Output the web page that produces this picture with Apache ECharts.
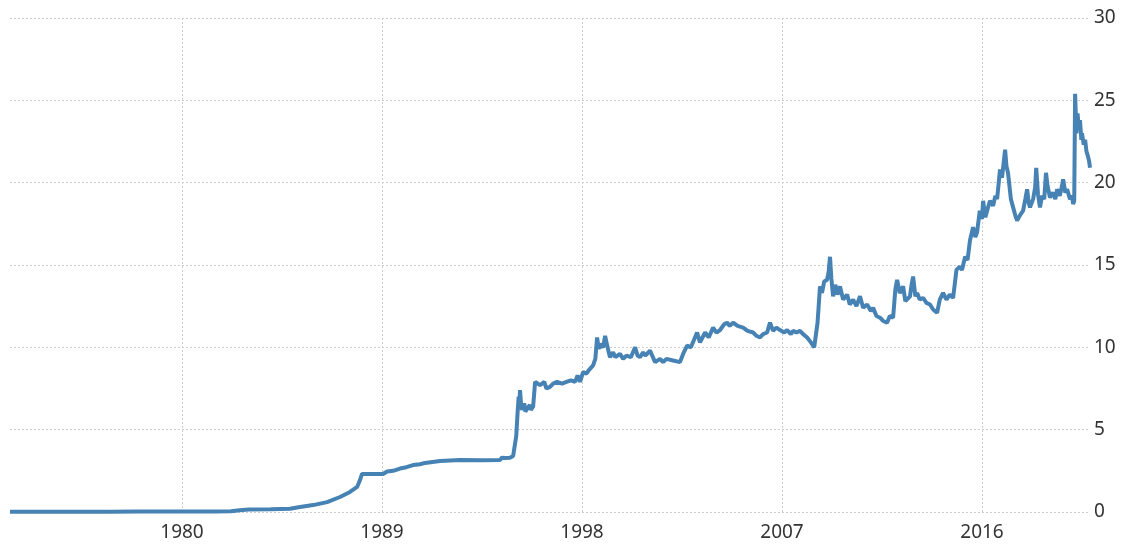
<!DOCTYPE html>
<html>
<head>
<meta charset="utf-8">
<script src="https://cdn.jsdelivr.net/npm/echarts@6/dist/echarts.min.js"></script>
<style>
  html, body { margin: 0; padding: 0; background: #fff; }
  #chart { width: 1124px; height: 547px; }
</style>
</head>
<body>
<div id="chart"></div>
<script>
// x ticks shown on the axis
const yearTicks = [1980, 1989, 1998, 2007, 2016];

// [decimal year, rate]
const early = [
  [1972.26, 0.012], [1974.0, 0.012], [1976.6, 0.012], [1976.8, 0.02], [1978.0, 0.023],
  [1980.0, 0.023], [1981.5, 0.025], [1982.2, 0.05], [1982.6, 0.1], [1983.0, 0.15],
  [1984.0, 0.16], [1984.86, 0.2], [1985.31, 0.3], [1985.9, 0.42], [1986.53, 0.6],
  [1987.11, 0.91], [1987.56, 1.22], [1987.88, 1.52], [1988.01, 1.94], [1988.1, 2.31],
  [1989.05, 2.31], [1989.23, 2.46], [1989.5, 2.5], [1989.81, 2.64], [1990.1, 2.72],
  [1990.4, 2.85], [1990.71, 2.9], [1990.94, 2.98], [1991.61, 3.1], [1992.51, 3.16],
  [1993.5, 3.15], [1994.31, 3.16], [1994.4, 3.3], [1994.45, 3.2], [1994.54, 3.28],
  [1994.76, 3.3], [1994.9, 3.4], [1994.99, 3.45]
];

const middle = [
  [1995.04, 4.6], [1995.1, 6.0], [1995.15, 7.0], [1995.18, 6.3], [1995.21, 7.4],
  [1995.26, 6.5], [1995.3, 6.2], [1995.4, 6.6], [1995.45, 6.1], [1995.53, 6.0],
  [1995.65, 6.5], [1995.7, 6.2], [1995.8, 6.4], [1995.89, 7.9], [1996.11, 7.7],
  [1996.3, 7.9], [1996.4, 7.5], [1996.56, 7.6], [1996.7, 7.8], [1996.88, 7.9],
  [1997.1, 7.8], [1997.3, 7.9], [1997.5, 8.0], [1997.69, 7.9], [1997.8, 8.3],
  [1997.91, 7.9], [1998.05, 8.5], [1998.2, 8.4], [1998.3, 8.6], [1998.5, 8.9],
  [1998.6, 9.3], [1998.68, 10.6], [1998.75, 9.9], [1998.81, 10.2], [1998.95, 10.0],
  [1999.04, 10.7], [1999.15, 10.0], [1999.26, 9.4], [1999.4, 9.7], [1999.5, 9.4],
  [1999.71, 9.6], [1999.85, 9.3], [2000.0, 9.5], [2000.2, 9.4], [2000.39, 10.0],
  [2000.5, 9.5], [2000.61, 9.4], [2000.75, 9.7], [2000.85, 9.5], [2001.06, 9.8],
  [2001.29, 9.1], [2001.51, 9.3], [2001.65, 9.1], [2001.8, 9.3], [2002.1, 9.2],
  [2002.41, 9.1], [2002.55, 9.6], [2002.73, 10.1], [2002.9, 10.0], [2003.18, 10.9],
  [2003.31, 10.3], [2003.54, 10.9], [2003.7, 10.6], [2003.9, 11.2], [2004.05, 10.9],
  [2004.21, 11.05], [2004.4, 11.4], [2004.53, 11.5], [2004.65, 11.3], [2004.8, 11.5],
  [2005.0, 11.3], [2005.25, 11.2], [2005.45, 11.0], [2005.7, 10.9], [2005.85, 10.7],
  [2006.01, 10.6], [2006.15, 10.8], [2006.33, 10.9], [2006.46, 11.5], [2006.6, 11.0],
  [2006.75, 11.2], [2006.91, 11.05], [2007.1, 10.9], [2007.23, 11.05], [2007.4, 10.8],
  [2007.5, 11.0], [2007.65, 10.9], [2007.81, 11.0], [2007.95, 10.8], [2008.13, 10.6],
  [2008.3, 10.3], [2008.45, 10.0]
];

const late = [
  [2008.6, 11.5], [2008.71, 13.7], [2008.8, 13.3], [2008.9, 14.0], [2009.03, 14.1],
  [2009.1, 14.6], [2009.16, 15.5], [2009.22, 14.2], [2009.3, 13.1], [2009.4, 13.8],
  [2009.5, 13.2], [2009.61, 13.7], [2009.75, 12.9], [2009.93, 13.2], [2010.05, 12.6],
  [2010.2, 12.9], [2010.35, 12.5], [2010.51, 13.1], [2010.65, 12.4], [2010.83, 12.6],
  [2011.0, 12.2], [2011.1, 12.4], [2011.25, 11.9], [2011.41, 11.8], [2011.55, 11.6],
  [2011.73, 11.5], [2011.85, 11.9], [2012.0, 11.8], [2012.1, 13.5], [2012.18, 14.1],
  [2012.3, 13.3], [2012.45, 13.7], [2012.55, 12.8], [2012.63, 12.7], [2012.76, 13.1],
  [2012.83, 13.8], [2012.9, 14.3], [2013.0, 13.1], [2013.08, 13.3], [2013.2, 12.9],
  [2013.35, 13.0], [2013.5, 12.7], [2013.66, 12.6], [2013.8, 12.3], [2013.98, 12.1],
  [2014.1, 12.9], [2014.25, 13.3], [2014.4, 12.9], [2014.55, 13.2], [2014.7, 13.0],
  [2014.85, 14.7], [2015.0, 14.9], [2015.1, 14.7], [2015.24, 15.5], [2015.35, 15.3],
  [2015.46, 16.5], [2015.6, 17.3], [2015.7, 16.7], [2015.78, 17.0], [2015.9, 18.3],
  [2016.0, 17.8], [2016.05, 18.9], [2016.15, 17.9], [2016.23, 18.3], [2016.36, 18.9],
  [2016.5, 18.6], [2016.6, 19.2], [2016.68, 19.0], [2016.81, 20.8], [2016.9, 20.3],
  [2017.04, 22.0], [2017.1, 21.0], [2017.17, 20.6], [2017.3, 19.0], [2017.4, 18.5],
  [2017.5, 18.0], [2017.58, 17.7], [2017.7, 18.0], [2017.85, 18.3], [2017.95, 19.0],
  [2018.03, 19.6], [2018.1, 18.8], [2018.16, 18.5], [2018.3, 19.0], [2018.39, 19.7],
  [2018.44, 20.9], [2018.52, 19.3], [2018.61, 18.5], [2018.7, 19.2], [2018.8, 19.0],
  [2018.88, 20.6], [2018.95, 19.8], [2019.06, 19.1], [2019.2, 19.4], [2019.3, 19.0],
  [2019.38, 19.6], [2019.5, 19.2], [2019.6, 19.8], [2019.65, 20.2], [2019.75, 19.4],
  [2019.83, 19.6], [2019.96, 19.0], [2020.05, 19.2], [2020.1, 18.7], [2020.15, 18.9],
  [2020.19, 25.4], [2020.25, 23.0], [2020.3, 24.2], [2020.36, 23.2], [2020.41, 23.8],
  [2020.47, 22.6], [2020.5, 23.0], [2020.58, 22.3], [2020.64, 22.6], [2020.7, 21.9],
  [2020.77, 21.6], [2020.82, 21.3], [2020.86, 20.9]
];

const seriesData = early.concat(middle, late);

const gridLine = {
  show: true,
  lineStyle: { color: '#cccccc', width: 1, type: [2, 2] }
};

const chart = echarts.init(document.getElementById('chart'));
chart.setOption({
  backgroundColor: '#fff',
  animation: false,
  grid: {
    left: 10,
    right: 34,
    top: 18,
    bottom: 35,
    containLabel: false
  },
  xAxis: {
    type: 'value',
    min: 1972.26,
    max: 2020.86,
    axisLine: { show: false },
    axisTick: { show: false, customValues: yearTicks },
    axisLabel: {
      customValues: yearTicks,
      formatter: function (v) { return String(Math.round(v)); },
      margin: 11,
      color: '#333',
      fontSize: 19,
      fontFamily: 'Noto Sans'
    },
    splitLine: gridLine
  },
  yAxis: {
    type: 'value',
    position: 'right',
    min: 0,
    max: 30,
    interval: 5,
    axisLine: { show: false },
    axisTick: { show: false },
    axisLabel: {
      margin: 4,
      color: '#333',
      fontSize: 19,
      fontFamily: 'Noto Sans'
    },
    splitLine: gridLine
  },
  series: [
    {
      type: 'line',
      data: seriesData,
      showSymbol: false,
      symbol: 'none',
      lineStyle: { color: '#4682b4', width: 4 },
      clip: false
    }
  ]
});
</script>
</body>
</html>
